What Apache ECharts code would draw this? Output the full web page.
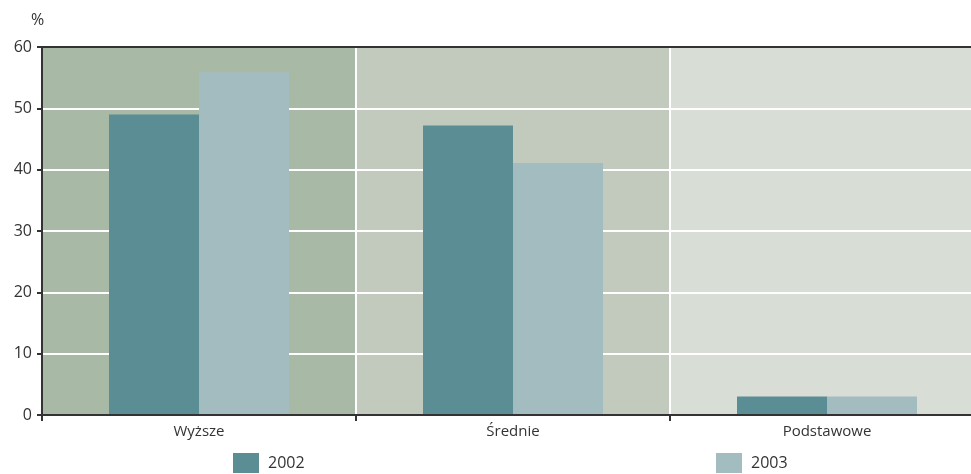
<!DOCTYPE html>
<html>
<head>
<meta charset="utf-8">
<script src="https://cdn.jsdelivr.net/npm/echarts@6/dist/echarts.min.js"></script>
<style>
  html, body { margin: 0; padding: 0; background: #fff; }
  #chart { width: 971px; height: 474px; }
</style>
</head>
<body>
<div id="chart"></div>
<script>
var categories = ['Wyższe', 'Średnie', 'Podstawowe'];
var values2002 = [49, 47.2, 3];
var values2003 = [55.9, 41.1, 3];
var seriesNames = ['2002', '2003'];

var chart = echarts.init(document.getElementById('chart'), null, { renderer: 'canvas' });
var font = '"Open Sans", "Noto Sans", sans-serif';

chart.setOption({
  animation: false,
  textStyle: { fontFamily: font },
  title: {
    text: '%',
    left: 26,
    top: 7,
    textStyle: { fontSize: 16, fontWeight: 'normal', color: '#333', fontFamily: font }
  },
  legend: [
    {
      data: [seriesNames[0]],
      icon: 'rect',
      left: 228,
      top: 448,
      itemWidth: 26,
      itemHeight: 20,
      itemGap: 10,
      textStyle: { fontSize: 16, color: '#333', fontFamily: font, padding: [0, 0, 0, 4] }
    },
    {
      data: [seriesNames[1]],
      icon: 'rect',
      left: 711,
      top: 448,
      itemWidth: 26,
      itemHeight: 20,
      textStyle: { fontSize: 16, color: '#333', fontFamily: font, padding: [0, 0, 0, 4] }
    }
  ],
  grid: {
    left: 42,
    right: -13,
    top: 47,
    bottom: 59,
    outerBoundsMode: 'none',
    containLabel: false
  },
  xAxis: [
    {
      // main axis: line, ticks and labels drawn above the bars
      type: 'category',
      data: categories,
      position: 'bottom',
      z: 5,
      axisLine: { lineStyle: { color: '#333', width: 2 } },
      axisTick: { show: true, length: 6, lineStyle: { color: '#333', width: 2 } },
      axisLabel: { fontSize: 15, color: '#333', margin: 9 },
      splitLine: { show: false },
      splitArea: { show: false }
    },
    {
      // background bands behind everything
      type: 'category',
      data: categories,
      position: 'bottom',
      z: 0,
      axisLine: { show: false },
      axisTick: { show: false },
      axisLabel: { show: false },
      splitLine: { show: true, lineStyle: { color: '#ffffff', width: 2 } },
      splitArea: {
        show: true,
        areaStyle: { color: ['#a8b9a6', '#c1cabd', '#d8ddd6'] }
      }
    }
  ],
  yAxis: {
    type: 'value',
    min: 0,
    max: 60,
    interval: 10,
    z: 1,
    axisLine: { show: true, lineStyle: { color: '#333', width: 2 } },
    axisTick: { show: true, length: 5, lineStyle: { color: '#333', width: 2 } },
    axisLabel: { fontSize: 16, color: '#333', margin: 10 },
    splitLine: {
      show: true,
      lineStyle: {
        color: ['#ffffff', '#ffffff', '#ffffff', '#ffffff', '#ffffff', '#ffffff', '#333333'],
        width: 2
      }
    }
  },
  series: [
    {
      name: seriesNames[0],
      type: 'bar',
      xAxisIndex: 0,
      data: values2002,
      barWidth: 90,
      barGap: '0%',
      z: 3,
      itemStyle: { color: '#5b8d94' }
    },
    {
      name: seriesNames[1],
      type: 'bar',
      xAxisIndex: 0,
      data: values2003,
      barWidth: 90,
      barGap: '0%',
      z: 3,
      itemStyle: { color: '#a3bcc0' }
    }
  ]
});
</script>
</body>
</html>
